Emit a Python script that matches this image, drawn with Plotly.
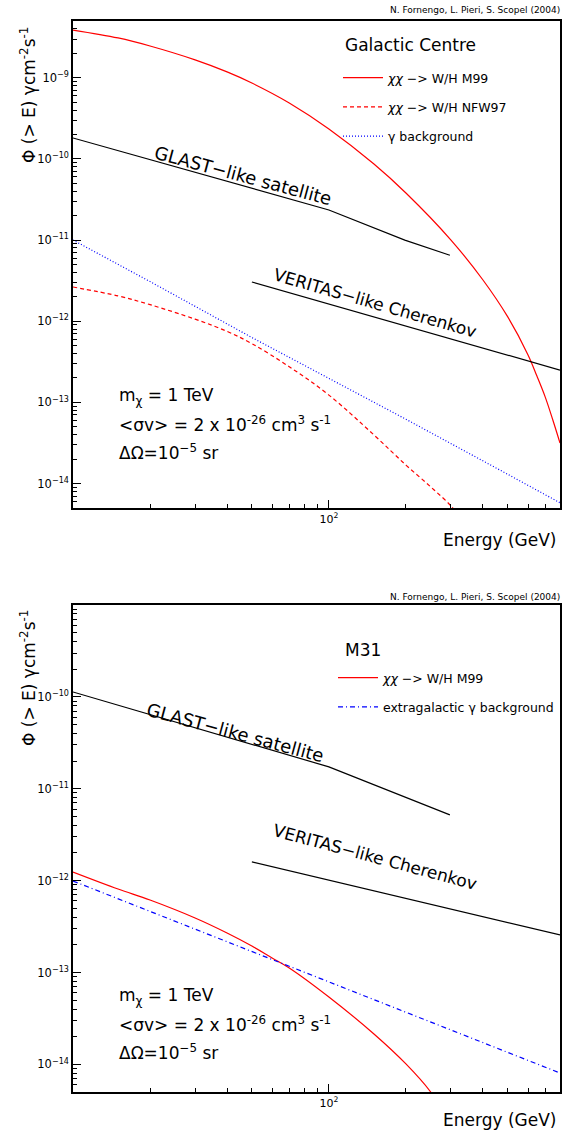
import plotly.graph_objects as go
import math

W, H = 574, 1136

# ---------------- Data: Galactic Centre (top panel) ----------------
gc_m99_E = [10, 15, 20, 30, 40, 50, 70, 100, 150, 200, 300, 400, 500, 600, 650, 700, 750, 800]
gc_m99_flux = [3.87e-9, 3.09e-9, 2.46e-9, 1.66e-9, 1.18e-9, 8.61e-10, 4.89e-10, 2.34e-10,
               8.65e-11, 3.80e-11, 1.00e-11, 3.22e-12, 1.13e-12, 3.84e-13, 2.11e-13, 1.17e-13,
               6.07e-14, 3.16e-14]
gc_nfw_E = [10, 15, 20, 30, 40, 50, 70, 100, 150, 200, 250, 300, 330]
gc_nfw_flux = [2.64e-12, 2.05e-12, 1.60e-12, 1.06e-12, 7.5e-13, 5.3e-13, 2.75e-13, 1.23e-13,
               3.97e-14, 1.69e-14, 9.1e-15, 5.3e-15, 3.6e-15]
gc_bg_E = [10, 20, 50, 100, 200, 500, 800]
gc_bg_flux = [1.0e-11, 3.08e-12, 6.3e-13, 2.0e-13, 6.2e-14, 1.3e-14, 5.8e-15]
gc_glast_E = [10, 100, 198, 297]
gc_glast_flux = [1.81e-10, 2.35e-11, 1.0e-11, 6.5e-12]
gc_veritas_E = [50, 800]
gc_veritas_flux = [3.04e-12, 2.5e-13]

# ---------------- Data: M31 (bottom panel) ----------------
m31_m99_E = [10, 15, 20, 30, 40, 50, 60, 70, 100, 150, 200, 250, 270]
m31_m99_flux = [1.24e-12, 8.1e-13, 6.15e-13, 3.92e-13, 2.69e-13, 1.94e-13, 1.44e-13, 1.12e-13,
                5.41e-14, 2.14e-14, 1.01e-14, 5.0e-15, 3.6e-15]
m31_bg_E = [10, 20, 50, 100, 200, 500, 800]
m31_bg_flux = [9.9e-13, 4.62e-13, 1.69e-13, 7.9e-14, 3.69e-14, 1.35e-14, 8.05e-15]
m31_glast_E = [10, 100, 297]
m31_glast_flux = [1.13e-10, 1.73e-11, 5.2e-12]
m31_veritas_E = [50, 800]
m31_veritas_flux = [1.6e-12, 2.56e-13]

x_range = [10, 800]
y_range_top = [5e-15, 5e-9]
y_range_bot = [5e-15, 1e-9]
x_tickvals = [10, 100]
x_ticktext = ["", "10<sup>2</sup>"]
y_tickexp_top = [-9, -10, -11, -12, -13, -14]
y_tickexp_bot = [-10, -11, -12, -13, -14]

FONT = "DejaVu Sans, Verdana, sans-serif"


def px(x):
    return x / W


def py(y):
    return 1 - y / H


fig = go.Figure()

# top panel traces
fig.add_trace(go.Scatter(x=gc_m99_E, y=gc_m99_flux, mode="lines", line=dict(color="#ff0000", width=1.2, shape="spline"),
                         name="<i>χχ</i> −> W/H M99", xaxis="x", yaxis="y", legend="legend", legendgroup="a1"))
fig.add_trace(go.Scatter(x=gc_nfw_E, y=gc_nfw_flux, mode="lines", line=dict(color="#ff0000", width=1.2, dash="4px,3px", shape="spline"),
                         name="<i>χχ</i> −> W/H NFW97", xaxis="x", yaxis="y", legend="legend", legendgroup="a2"))
fig.add_trace(go.Scatter(x=gc_bg_E, y=gc_bg_flux, mode="lines", line=dict(color="#0000ff", width=1.2, dash="1px,2px"),
                         name="γ background", xaxis="x", yaxis="y", legend="legend", legendgroup="a3"))
fig.add_trace(go.Scatter(x=gc_glast_E, y=gc_glast_flux, mode="lines", line=dict(color="black", width=1.2),
                         showlegend=False, xaxis="x", yaxis="y"))
fig.add_trace(go.Scatter(x=gc_veritas_E, y=gc_veritas_flux, mode="lines", line=dict(color="black", width=1.2),
                         showlegend=False, xaxis="x", yaxis="y"))

# bottom panel traces
fig.add_trace(go.Scatter(x=m31_m99_E, y=m31_m99_flux, mode="lines", line=dict(color="#ff0000", width=1.2, shape="spline"),
                         name="<i>χχ</i> −> W/H M99", xaxis="x2", yaxis="y2", legend="legend2", legendgroup="b1"))
fig.add_trace(go.Scatter(x=m31_bg_E, y=m31_bg_flux, mode="lines", line=dict(color="#0000ff", width=1.2, dash="5px,3px,1px,3px"),
                         name="extragalactic γ background", xaxis="x2", yaxis="y2", legend="legend2", legendgroup="b2"))
fig.add_trace(go.Scatter(x=m31_glast_E, y=m31_glast_flux, mode="lines", line=dict(color="black", width=1.2),
                         showlegend=False, xaxis="x2", yaxis="y2"))
fig.add_trace(go.Scatter(x=m31_veritas_E, y=m31_veritas_flux, mode="lines", line=dict(color="black", width=1.2),
                         showlegend=False, xaxis="x2", yaxis="y2"))

x_minor = [k * 10 for k in range(2, 10)] + [k * 100 for k in range(2, 9)]


def y_minor(exps):
    lo = min(exps) - 1
    hi = max(exps) + 1
    return [k * 10.0 ** e for e in range(lo, hi) for k in range(2, 10)]


def minor_def(vals):
    return dict(tickmode="array", tickvals=vals, ticks="inside", ticklen=4, tickcolor="black",
                tickwidth=1, showgrid=False)


def xaxis_def(anchor, dom):
    return dict(type="log", range=[math.log10(x_range[0]), math.log10(x_range[1])], domain=dom, anchor=anchor,
                showline=True, linecolor="black", linewidth=1.6, mirror=True, showgrid=False, zeroline=False,
                ticks="inside", ticklen=8, tickcolor="black", tickwidth=1,
                tickmode="array", tickvals=x_tickvals, ticktext=x_ticktext,
                tickfont=dict(family=FONT, size=11, color="black"),
                minor=minor_def(x_minor))


def yaxis_def(anchor, dom, rng, exps):
    return dict(type="log", range=[math.log10(rng[0]), math.log10(rng[1])], domain=dom, anchor=anchor,
                showline=True, linecolor="black", linewidth=1.6, mirror=True, showgrid=False, zeroline=False,
                ticks="inside", ticklen=8, tickcolor="black", tickwidth=1,
                tickmode="array", tickvals=[10.0 ** e for e in exps],
                ticktext=["10<sup>−%d</sup>" % (-e) for e in exps],
                tickfont=dict(family=FONT, size=11.5, color="black"),
                minor=minor_def(y_minor(exps)))


xd = [px(73), px(560)]
fig.update_layout(
    width=W, height=H, margin=dict(l=0, r=0, t=0, b=0),
    paper_bgcolor="white", plot_bgcolor="white",
    font=dict(family=FONT, color="black"),
    xaxis=xaxis_def("y", xd),
    yaxis=yaxis_def("x", [py(508), py(21)], y_range_top, y_tickexp_top),
    xaxis2=xaxis_def("y2", xd),
    yaxis2=yaxis_def("x2", [py(1092), py(605)], y_range_bot, y_tickexp_bot),
    legend=dict(x=px(338), y=py(63), xanchor="left", yanchor="top", bgcolor="rgba(0,0,0,0)",
                font=dict(size=12.5, family=FONT), tracegroupgap=10, itemwidth=40),
    legend2=dict(x=px(333), y=py(663), xanchor="left", yanchor="top", bgcolor="rgba(0,0,0,0)",
                 font=dict(size=12.5, family=FONT), tracegroupgap=10, itemwidth=40),
)

ann = []


def add_text(x, y, text, size, angle=0, xanchor="left"):
    ann.append(dict(x=px(x), y=py(y), xref="paper", yref="paper", text=text, showarrow=False,
                    font=dict(size=size, family=FONT, color="black"), textangle=angle,
                    xanchor=xanchor, yanchor="middle"))


add_text(562, 10, "N. Fornengo, L. Pieri, S. Scopel (2004)", 9, xanchor="right")
add_text(562, 597, "N. Fornengo, L. Pieri, S. Scopel (2004)", 9, xanchor="right")
add_text(343, 45, "Galactic Centre", 17)
add_text(343, 650, "M31", 17)

ylab = "Φ (> E) γcm<sup>-2</sup>s<sup>-1</sup>"
add_text(28, 95, ylab, 17, angle=-90, xanchor="center")
add_text(28, 678, ylab, 17, angle=-90, xanchor="center")
add_text(558, 540, "Energy (GeV)", 17, xanchor="right")
add_text(558, 1120, "Energy (GeV)", 17, xanchor="right")

add_text(243, 175, "GLAST−like satellite", 18, angle=15, xanchor="center")
add_text(375, 303, "VERITAS−like Cherenkov", 17, angle=16, xanchor="center")
add_text(235, 733, "GLAST−like satellite", 18, angle=15, xanchor="center")
add_text(375, 857, "VERITAS−like Cherenkov", 17, angle=15, xanchor="center")

for base in (396, 996):
    add_text(117, base, "m<sub>χ</sub> = 1 TeV", 17)
    add_text(117, base + 28, "&lt;σv&gt; = 2 x 10<sup>-26</sup> cm<sup>3</sup> s<sup>-1</sup>", 17)
    add_text(117, base + 56, "ΔΩ=10<sup>−5</sup> sr", 17)

fig.update_layout(annotations=ann)
fig.write_html("out.html")
